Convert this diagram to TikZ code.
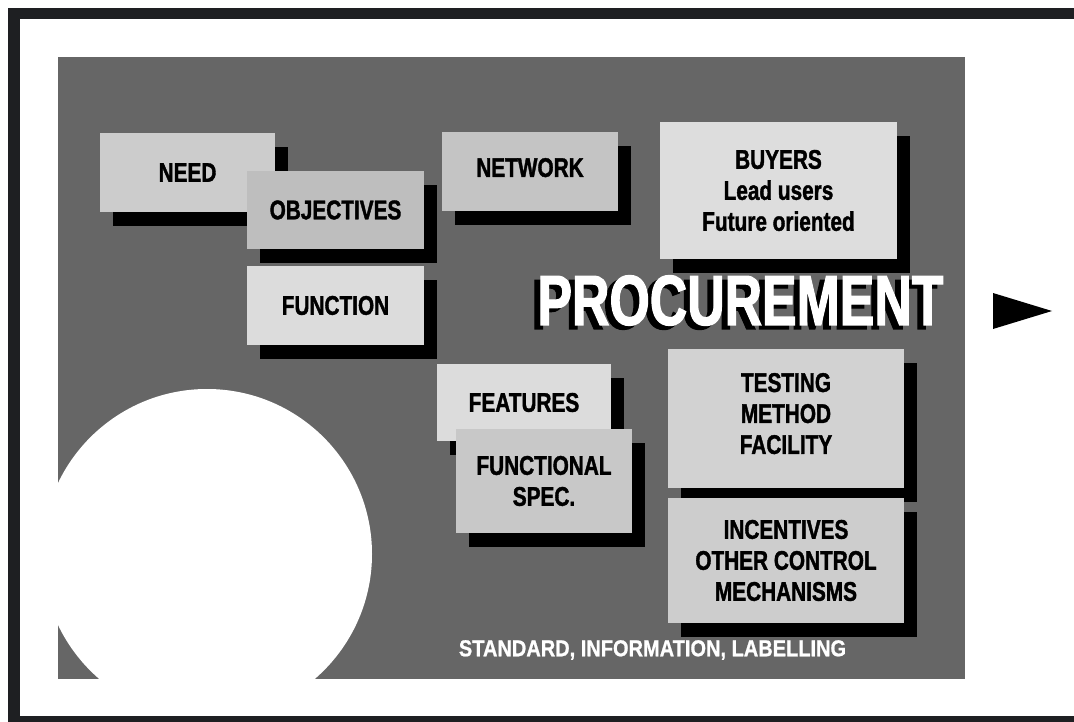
\documentclass[tikz,border=0pt]{standalone}
\usepackage{fontspec}
\newfontfamily\boxfont[FakeStretch=0.77,FakeBold=1.4]{Liberation Sans}
\newfontfamily\bigfont[FakeStretch=0.73,FakeBold=1.6]{Liberation Sans}
\newfontfamily\footfont[FakeStretch=0.87,FakeBold=0.9]{Liberation Sans}
\usetikzlibrary{shadows}
\definecolor{framecol}{HTML}{1E1F22}
\definecolor{panelcol}{HTML}{666666}
\definecolor{cNeed}{HTML}{CCCCCC}
\definecolor{cObj}{HTML}{BEBEBE}
\definecolor{cFun}{HTML}{DCDCDC}
\definecolor{cNet}{HTML}{C4C4C4}
\definecolor{cBuy}{HTML}{DDDDDD}
\definecolor{cFeat}{HTML}{DCDCDC}
\definecolor{cSpec}{HTML}{C8C8C8}
\definecolor{cTest}{HTML}{D2D2D2}
\definecolor{cInc}{HTML}{CDCDCD}
\begin{document}
\begin{tikzpicture}[x=1pt,y=-1pt,
  box/.style={rectangle, inner sep=0pt, align=center, text=black,
    font=\boxfont\bfseries\fontsize{27}{31}\selectfont,
    drop shadow={shadow xshift=13pt, shadow yshift=-14pt, fill=black, opacity=1}},
  bigtext/.style={inner sep=0pt, font=\bigfont\bfseries\fontsize{71}{80}\selectfont},
  foottext/.style={inner sep=0pt, text=white, font=\footfont\bfseries\fontsize{23}{28}\selectfont}
]
\fill[white] (0,0) rectangle (1074,722);
\useasboundingbox (0,0) rectangle (1074,722);
% frame: top, left and bottom bands
\fill[framecol] (8,8) rectangle (1074,19);
\fill[framecol] (8,8) rectangle (20,722);
\fill[framecol] (8,716) rectangle (1074,722);
% panel
\fill[panelcol] (58,57) rectangle (965,679);
\begin{scope}
  \clip (58,57) rectangle (965,679);
  \fill[white] (207,554) circle[radius=165pt];
\end{scope}
% boxes
\node[box, fill=cNeed, minimum width=175pt, minimum height=79pt] (need) at (187.5,172.5) {NEED};
\node[box, fill=cObj, minimum width=177pt, minimum height=78pt] (obj) at (335.5,210) {OBJECTIVES};
\node[box, fill=cFun, minimum width=177pt, minimum height=79pt] (fun) at (335.5,305.5) {FUNCTION};
\node[box, fill=cNet, minimum width=176pt, minimum height=79pt, text depth=8pt] (net) at (530,171.5) {NETWORK};
\node[box, fill=cBuy, minimum width=237pt, minimum height=137pt] (buy) at (778.5,190.5) {BUYERS\\Lead users\\Future oriented};
\node[box, fill=cFeat, minimum width=174pt, minimum height=77pt] (feat) at (524,402.5) {FEATURES};
\node[box, fill=cSpec, minimum width=176pt, minimum height=104pt] (spec) at (544,481) {FUNCTIONAL\\SPEC.};
\node[box, fill=cTest, minimum width=236pt, minimum height=139pt, text depth=10pt] (test) at (786,418.5) {TESTING\\METHOD\\FACILITY};
\node[box, fill=cInc, minimum width=236pt, minimum height=125pt] (inc) at (786,560.5) {INCENTIVES\\OTHER CONTROL\\MECHANISMS};
% title with its black shadow, in one node
\node[bigtext, text=white] (proc) at (740.5,302.5)
  {\makebox[0pt][l]{\hspace*{-6pt}\raisebox{-4pt}{\color{black}PROCUREMENT}}PROCUREMENT};
\fill[black] (993,293) -- (1052,311) -- (993,329) -- cycle;
% footer
\node[foottext] (std) at (652.5,650) {STANDARD, INFORMATION, LABELLING};
\end{tikzpicture}
\end{document}
